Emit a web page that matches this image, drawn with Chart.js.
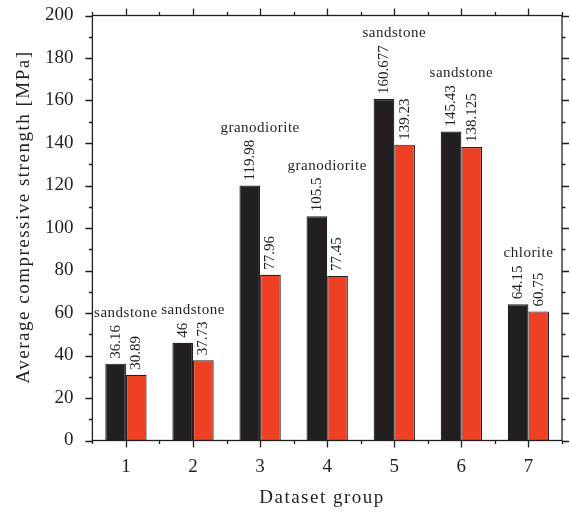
<!DOCTYPE html>
<html>
<head>
<meta charset="utf-8">
<script src="https://cdn.jsdelivr.net/npm/chart.js@4"></script>
<style>
    html, body { margin: 0; padding: 0; background: #ffffff; }
    #wrap { width: 570px; height: 514px; position: relative; }
</style>
</head>
<body>
<div id="wrap"><canvas id="strengthChart"></canvas></div>
<script>
// ========== 数据 ==========
const groups = ['1', '2', '3', '4', '5', '6', '7'];
const blackValues = [36.16, 46, 119.98, 105.5, 160.677, 145.43, 64.15];
const redValues = [30.89, 37.73, 77.96, 77.45, 139.23, 138.125, 60.75];
const rockTypes = ['sandstone', 'sandstone', 'granodiorite', 'granodiorite', 'sandstone', 'sandstone', 'chlorite'];
const yMin = 0;
const yMax = 200;
const yStep = 20;
const yMinorStep = 10;

const COLORS = {
    ink: '#231f20',
    black: '#231f20',
    red: '#ee4124'
};

const SERIF = '"Liberation Serif", "Times New Roman", serif';

// frame, tick marks, axis titles
const framePlugin = {
    id: 'frame',
    afterDraw(chart) {
        const ctx = chart.ctx;
        const area = chart.chartArea;
        const xs = chart.scales.x;
        const ys = chart.scales.y;
        const major = 7;
        const minor = 3.5;

        ctx.save();
        ctx.strokeStyle = COLORS.ink;
        ctx.lineWidth = 1.3;
        ctx.strokeRect(area.left, area.top, area.right - area.left, area.bottom - area.top);

        ctx.beginPath();
        for (let v = yMin; v <= yMax; v += yMinorStep) {
            const y = Math.round(ys.getPixelForValue(v)) + 0.5;
            const len = (v % yStep === 0) ? major : minor;
            ctx.moveTo(area.left - len, y);
            ctx.lineTo(area.left, y);
            ctx.moveTo(area.right, y);
            ctx.lineTo(area.right + len, y);
        }
        const step = xs.getPixelForValue(1) - xs.getPixelForValue(0);
        groups.forEach((g, i) => {
            const xc = xs.getPixelForValue(i);
            [[xc, major], [xc - step / 2, minor], [xc + step / 2, minor]].forEach(([x, len]) => {
                const px = Math.round(x) + 0.5;
                ctx.moveTo(px, area.bottom);
                ctx.lineTo(px, area.bottom + len);
                ctx.moveTo(px, area.top);
                ctx.lineTo(px, area.top - len);
            });
        });
        ctx.stroke();

        ctx.fillStyle = COLORS.ink;
        ctx.font = '19px ' + SERIF;
        ctx.letterSpacing = '1.5px';
        ctx.textAlign = 'center';
        ctx.textBaseline = 'alphabetic';
        ctx.fillText('Dataset group', 322, 503);

        ctx.translate(29, 217);
        ctx.rotate(-Math.PI / 2);
        ctx.fillText('Average compressive strength [MPa]', 0, 0);
        ctx.restore();
    }
};

// rotated values above each bar, rock type above each group
const labelPlugin = {
    id: 'barLabels',
    afterDatasetsDraw(chart) {
        const ctx = chart.ctx;
        const gap = 5;
        ctx.save();
        ctx.fillStyle = COLORS.ink;
        const tops = groups.map(() => Infinity);

        ctx.font = '15px ' + SERIF;
        chart.data.datasets.forEach((ds, di) => {
            const meta = chart.getDatasetMeta(di);
            meta.data.forEach((bar, i) => {
                const text = String(ds.data[i]);
                const w = ctx.measureText(text).width;
                ctx.save();
                ctx.translate(bar.x, bar.y - gap);
                ctx.rotate(-Math.PI / 2);
                ctx.textAlign = 'left';
                ctx.textBaseline = 'middle';
                ctx.fillText(text, 0, 0);
                ctx.restore();
                tops[i] = Math.min(tops[i], bar.y - gap - w);
            });
        });

        ctx.font = '15px ' + SERIF;
        ctx.letterSpacing = '0.5px';
        ctx.textAlign = 'center';
        ctx.textBaseline = 'alphabetic';
        groups.forEach((g, i) => {
            const x = chart.scales.x.getPixelForValue(i);
            ctx.fillText(rockTypes[i], x, tops[i] - 8);
        });
        ctx.restore();
    }
};

function initStrengthChart() {
    const ctx = document.getElementById('strengthChart');
    if (!ctx) return;

    new Chart(ctx, {
        type: 'bar',
        data: {
            labels: groups,
            datasets: [{
                label: 'black',
                data: blackValues,
                backgroundColor: COLORS.black,
                borderColor: COLORS.ink,
                borderWidth: 1.2
            }, {
                label: 'red',
                data: redValues,
                backgroundColor: COLORS.red,
                borderColor: COLORS.ink,
                borderWidth: 1.2
            }]
        },
        options: {
            responsive: true,
            maintainAspectRatio: false,
            animation: false,
            datasets: {
                bar: {
                    categoryPercentage: 0.616,
                    barPercentage: 1
                }
            },
            layout: {
                padding: { top: 15.5, right: 8, left: 0, bottom: 0 }
            },
            plugins: {
                legend: { display: false },
                tooltip: { enabled: false }
            },
            scales: {
                x: {
                    grid: { display: false, drawTicks: false },
                    border: { display: false },
                    ticks: {
                        color: COLORS.ink,
                        padding: 15,
                        font: { family: SERIF, size: 19 }
                    },
                    afterFit: function(scale) {
                        scale.height = 73.5;
                        scale.paddingLeft = 0;
                        scale.paddingRight = 0;
                    }
                },
                y: {
                    min: yMin,
                    max: yMax,
                    grid: { display: false, drawTicks: false },
                    border: { display: false },
                    ticks: {
                        stepSize: yStep,
                        color: COLORS.ink,
                        padding: 19,
                        font: { family: SERIF, size: 19 }
                    },
                    afterFit: function(scale) {
                        scale.width = 92.4;
                        scale.paddingTop = 0;
                        scale.paddingBottom = 0;
                    }
                }
            }
        },
        plugins: [framePlugin, labelPlugin]
    });
}

initStrengthChart();
</script>
</body>
</html>
